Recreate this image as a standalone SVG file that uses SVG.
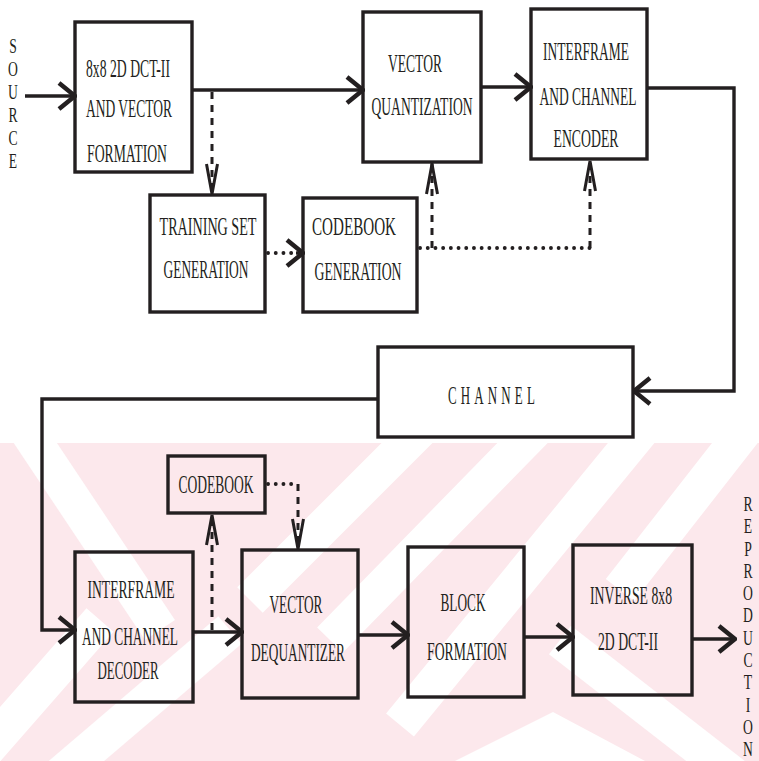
<svg xmlns="http://www.w3.org/2000/svg" width="759" height="761" viewBox="0 0 759 761">
<style>
.box{fill:none;stroke:#231f20;stroke-width:3.4}
.t{font-family:"Liberation Serif","Times New Roman",serif;font-size:26px;fill:#231f20;text-anchor:middle}
.v{font-family:"Liberation Serif","Times New Roman",serif;font-size:22px;fill:#231f20;text-anchor:middle}
.ch{font-family:"Liberation Serif","Times New Roman",serif;font-size:25px;fill:#231f20;text-anchor:start;letter-spacing:8px}
.c{fill:none;stroke:#231f20;stroke-width:3.4}
.dash{fill:none;stroke:#231f20;stroke-width:3;stroke-dasharray:7 6}
.dot{fill:none;stroke:#231f20;stroke-width:3.8;stroke-linecap:round;stroke-dasharray:0.1 7.6}
.wm{stroke:#ffffff;stroke-width:36;fill:none}
</style>
<defs>
<marker id="ah" viewBox="0 0 20 30" refX="18" refY="15" markerWidth="20" markerHeight="30" markerUnits="userSpaceOnUse" orient="auto">
<path d="M2,2 L18,15 L2,28" fill="none" stroke="#231f20" stroke-width="4.5"/>
</marker>
<marker id="ahd" viewBox="0 0 34 14" refX="33" refY="7" markerWidth="34" markerHeight="14" markerUnits="userSpaceOnUse" orient="auto">
<path d="M2,1.5 L32,7 L2,12.5" fill="none" stroke="#231f20" stroke-width="3"/>
</marker>
<clipPath id="wmclip"><rect x="0" y="443" width="759" height="318"/></clipPath>
</defs>
<rect width="759" height="761" fill="#ffffff"/>
<g id="watermark" clip-path="url(#wmclip)">
<rect x="0" y="443" width="759" height="318" fill="#fce8ec"/>
<line class="wm" x1="100" y1="620" x2="-40" y2="780"/>
<line class="wm" x1="230" y1="630" x2="60" y2="775"/>
<line class="wm" x1="420" y1="430" x2="250" y2="600"/>
<line class="wm" x1="545" y1="420" x2="330" y2="640"/>
<line class="wm" x1="650" y1="420" x2="400" y2="725"/>
<line class="wm" x1="745" y1="430" x2="620" y2="590"/>
<line class="wm" x1="20" y1="420" x2="160" y2="630"/>
<line class="wm" x1="560" y1="640" x2="740" y2="780"/>
<polygon points="553,712 455,761 645,761" fill="#ffffff"/>
</g>

<g id="connectors">
<path class="c" d="M25,96 L75,96" marker-end="url(#ah)"/>
<path class="c" d="M192,90 L363,90" marker-end="url(#ah)"/>
<path class="c" d="M481,87 L531,87" marker-end="url(#ah)"/>
<path class="c" d="M647,88 L734,88 L734,391 L634,391" marker-end="url(#ah)"/>
<path class="c" d="M378,399 L42,399 L42,630 L75,630" marker-end="url(#ah)"/>
<path class="c" d="M193,632 L242,632" marker-end="url(#ah)"/>
<path class="c" d="M358,635 L408,635" marker-end="url(#ah)"/>
<path class="c" d="M524,637 L573,637" marker-end="url(#ah)"/>
<path class="c" d="M692,639 L735,639" marker-end="url(#ah)"/>
<path class="dash" d="M212,92 L212,195" marker-end="url(#ahd)"/>
<path class="dot" d="M268,253 L300,253"/>
<path class="c" d="M296,253 L303,253" stroke-width="0" marker-end="url(#ah)"/>
<path class="dot" d="M420,248 L590,248"/>
<path class="dash" d="M432,248 L432,163" marker-end="url(#ahd)"/>
<path class="dash" d="M590,248 L590,160" marker-end="url(#ahd)"/>
<path class="dash" d="M212,630 L212,514" marker-end="url(#ahd)"/>
<path class="dot" d="M268,484 L298,484"/>
<path class="dash" d="M298,484 L298,550" marker-end="url(#ahd)"/>
</g>

<g id="source">
<text class="v" transform="translate(13,0) scale(0.62,1)"><tspan x="0" y="53">S</tspan><tspan x="0" y="76">O</tspan><tspan x="0" y="99">U</tspan><tspan x="0" y="122">R</tspan><tspan x="0" y="145">C</tspan><tspan x="0" y="168">E</tspan></text>
</g>

<g id="dct">
<rect class="box" x="75" y="22" width="117" height="150"/>
<text class="t" x="128" y="77" textLength="84" lengthAdjust="spacingAndGlyphs">8x8 2D DCT-II</text>
<text class="t" x="129" y="117" textLength="86" lengthAdjust="spacingAndGlyphs">AND VECTOR</text>
<text class="t" x="127" y="162" textLength="80" lengthAdjust="spacingAndGlyphs">FORMATION</text>
</g>

<g id="training">
<rect class="box" x="150" y="195" width="115" height="117"/>
<text class="t" x="208" y="235" textLength="97" lengthAdjust="spacingAndGlyphs">TRAINING SET</text>
<text class="t" x="206" y="278" textLength="85" lengthAdjust="spacingAndGlyphs">GENERATION</text>
</g>

<g id="codebookgen">
<rect class="box" x="303" y="198" width="114" height="114"/>
<text class="t" x="354" y="235" textLength="84" lengthAdjust="spacingAndGlyphs">CODEBOOK</text>
<text class="t" x="358" y="280" textLength="87" lengthAdjust="spacingAndGlyphs">GENERATION</text>
</g>

<g id="vq">
<rect class="box" x="363" y="12" width="118" height="150"/>
<text class="t" x="415" y="72" textLength="54" lengthAdjust="spacingAndGlyphs">VECTOR</text>
<text class="t" x="422" y="115" textLength="101" lengthAdjust="spacingAndGlyphs">QUANTIZATION</text>
</g>

<g id="encoder">
<rect class="box" x="531" y="9" width="116" height="150"/>
<text class="t" x="586" y="60" textLength="86" lengthAdjust="spacingAndGlyphs">INTERFRAME</text>
<text class="t" x="588" y="105" textLength="97" lengthAdjust="spacingAndGlyphs">AND CHANNEL</text>
<text class="t" x="586" y="147" textLength="65" lengthAdjust="spacingAndGlyphs">ENCODER</text>
</g>

<g id="channel">
<rect class="box" x="378" y="347" width="255" height="90"/>
<text class="ch" x="448" y="404" textLength="91" lengthAdjust="spacingAndGlyphs">CHANNEL</text>
</g>

<g id="decoder">
<rect class="box" x="75" y="552" width="118" height="150"/>
<text class="t" x="131" y="598" textLength="87" lengthAdjust="spacingAndGlyphs">INTERFRAME</text>
<text class="t" x="130" y="645" textLength="96" lengthAdjust="spacingAndGlyphs">AND CHANNEL</text>
<text class="t" x="128" y="679" textLength="61" lengthAdjust="spacingAndGlyphs">DECODER</text>
</g>

<g id="codebook">
<rect class="box" x="168" y="456" width="97" height="57"/>
<text class="t" x="216" y="493" textLength="75" lengthAdjust="spacingAndGlyphs">CODEBOOK</text>
</g>

<g id="dequantizer">
<rect class="box" x="242" y="550" width="116" height="148"/>
<text class="t" x="296" y="613" textLength="53" lengthAdjust="spacingAndGlyphs">VECTOR</text>
<text class="t" x="298" y="661" textLength="94" lengthAdjust="spacingAndGlyphs">DEQUANTIZER</text>
</g>

<g id="block">
<rect class="box" x="408" y="547" width="116" height="150"/>
<text class="t" x="463" y="611" textLength="45" lengthAdjust="spacingAndGlyphs">BLOCK</text>
<text class="t" x="467" y="660" textLength="80" lengthAdjust="spacingAndGlyphs">FORMATION</text>
</g>

<g id="inverse">
<rect class="box" x="573" y="545" width="119" height="150"/>
<text class="t" x="631" y="604" textLength="82" lengthAdjust="spacingAndGlyphs">INVERSE 8x8</text>
<text class="t" x="628" y="650" textLength="60" lengthAdjust="spacingAndGlyphs">2D DCT-II</text>
</g>

<g id="reproduction">
<text class="v" transform="translate(748,0) scale(0.62,1)"><tspan x="0" y="511">R</tspan><tspan x="0" y="533.3">E</tspan><tspan x="0" y="555.6">P</tspan><tspan x="0" y="577.9">R</tspan><tspan x="0" y="600.2">O</tspan><tspan x="0" y="622.5">D</tspan><tspan x="0" y="644.8">U</tspan><tspan x="0" y="667.1">C</tspan><tspan x="0" y="689.4">T</tspan><tspan x="0" y="711.7">I</tspan><tspan x="0" y="734">O</tspan><tspan x="0" y="756.3">N</tspan></text>
</g>
</svg>
